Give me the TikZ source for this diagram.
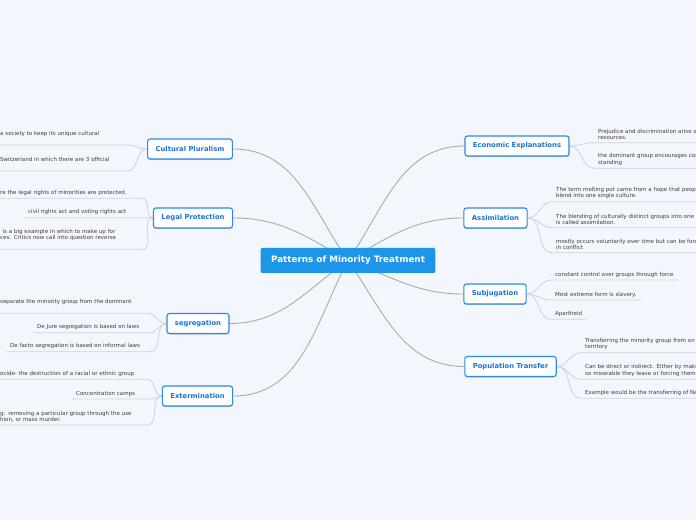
\documentclass[tikz,border=0pt]{standalone}
\usepackage{fontspec}
\setmainfont{DejaVu Sans}
\usetikzlibrary{shadows}

\definecolor{bgcol}{HTML}{F3F6FD}
\definecolor{boxblue}{HTML}{2B8AE2}
\definecolor{txtblue}{HTML}{1B74D6}
\definecolor{ctrblue}{HTML}{1E96E8}
\definecolor{wirecol}{HTML}{ABABAB}
\definecolor{leafcol}{HTML}{CDD2DA}
\definecolor{leaftxt}{HTML}{3C3C3C}

\pgfdeclarelayer{back}
\pgfsetlayers{back,main}

\tikzset{
  topic/.style={fill=ctrblue, rounded corners=2pt, text=white, font=\fontsize{8.8}{10}\selectfont\bfseries, minimum height=25pt, inner xsep=10.5pt},
  subtopic/.style={draw=boxblue, line width=1.1pt, fill=white, rounded corners=2.5pt, text=txtblue, font=\fontsize{6.8}{8}\selectfont\bfseries, minimum height=20pt, inner xsep=8pt, drop shadow={fill=black, opacity=0.18, shadow xshift=0pt, shadow yshift=-1pt}},
  leaf/.style={text=leaftxt, font=\fontsize{5.5}{6.6}\selectfont, align=left, inner xsep=4pt, inner ysep=2.5pt, anchor=south west},
  wire/.style={draw=wirecol, line width=0.9pt},
  leafwire/.style={draw=leafcol, line width=0.8pt},
}

\begin{document}
\begin{tikzpicture}[x=1pt,y=1pt]
\useasboundingbox (0,0) rectangle (696,520);
\clip (0,0) rectangle (696,520);

% centre
\node[topic] (ctr) at (348,259.5) {Patterns of Minority Treatment};

% main topics
\node[subtopic] (cp) at (190,371) {Cultural Pluralism};
\node[subtopic] (lp) at (193,302) {Legal Protection};
\node[subtopic] (seg) at (198,196.5) {segregation};
\node[subtopic] (ext) at (197.5,124) {Extermination};
\node[subtopic] (eco) at (517,374) {Economic Explanations};
\node[subtopic] (asm) at (495.5,302) {Assimilation};
\node[subtopic] (sub) at (495,226) {Subjugation};
\node[subtopic] (pop) at (510.5,153.5) {Population Transfer};

% leaves, left side
\foreach \n/\x/\y/\w/\t in {
  cpa/-4/375/123/{a society to keep its unique cultural\\\mbox{}},
  cpb/-4/349/123/{Switzerland in which there are 3 official\\\mbox{}},
  lpa/-4/321.7/138/{re the legal rights of minorities are protected.},
  lpb/24/302.3/120/{civil rights act and voting rights act},
  lpc/-4/270.7/138/{\hspace*{2.5pt}is a big example in which to make up for\\ces. Critics now call into question reverse\\\mbox{}},
  sega/-4/206.7/143/{separate the minority group from the dominant\\\mbox{}},
  segb/33/187.3/109/{De Jure segregation is based on laws},
  segc/6/168.3/136/{De facto segregation is based on informal laws},
  exta/-4/140.7/143/{ocide- the destruction of a racial or ethnic group},
  extb/72/121/72/{Concentration camps},
  extc/-4/95/143/{g: removing a particular group through the use\\hion, or mass murder.}}
  \node[leaf, text width=\w pt] (\n) at (\x,\y) {\t};

% leaves, right side
\foreach \n/\x/\y/\t in {
  ecoa/594/377.3/{Prejudice and discrimination arise o\\resources.},
  ecob/594/351.7/{the dominant group encourages con\\standing},
  asma/552/318.3/{The term melting pot came from a hope that peop\\blend into one single culture.},
  asmb/552/292.3/{The blending of culturally distinct groups into one s\\is called assimilation.},
  asmc/552/267.3/{mostly occurs voluntarily over time but can be forc\\in conflict},
  popa/581/167.3/{Transferring the minority group from on\\territory},
  popb/581/140.7/{Can be direct or indirect. Either by maki\\so miserable they leave or forcing them},
  popc/581/121.7/{Example would be the transferring of Na}}
  \node[leaf, text width=200pt] (\n) at (\x,\y) {\t};
\foreach \n/\y/\t in {suba/240/{constant control over groups through force}, subb/220/{Most extreme form is slavery.}, subc/200.7/{Apartheid}}
  \node[leaf] (\n) at (551,\y) {\t};

\begin{pgfonlayer}{back}
\fill[bgcol] (0,0) rectangle (696,520);
% connectors from the centre
\foreach \b/\o in {cp/125, lp/150, seg/215, ext/242}
  \draw[wire] (ctr.center) to[out=\o, in=0] (\b.east);
\foreach \b/\o in {eco/55, asm/30, sub/-20, pop/-55}
  \draw[wire] (ctr.center) to[out=\o, in=180] (\b.west);
% connectors to the leaves
\foreach \b/\n in {cp/cpa, cp/cpb, lp/lpa, lp/lpb, lp/lpc, seg/sega, seg/segb, seg/segc, ext/exta, ext/extb, ext/extc}
  \draw[leafwire] (\b.west) to[out=180, in=0] (\n.south east) -- (\n.south west);
\foreach \b/\n in {eco/ecoa, eco/ecob, asm/asma, asm/asmb, asm/asmc, sub/suba, sub/subb, sub/subc, pop/popa, pop/popb, pop/popc}
  \draw[leafwire] (\b.east) to[out=0, in=180] (\n.south west) -- (\n.south east);
\end{pgfonlayer}
\end{tikzpicture}
\end{document}
